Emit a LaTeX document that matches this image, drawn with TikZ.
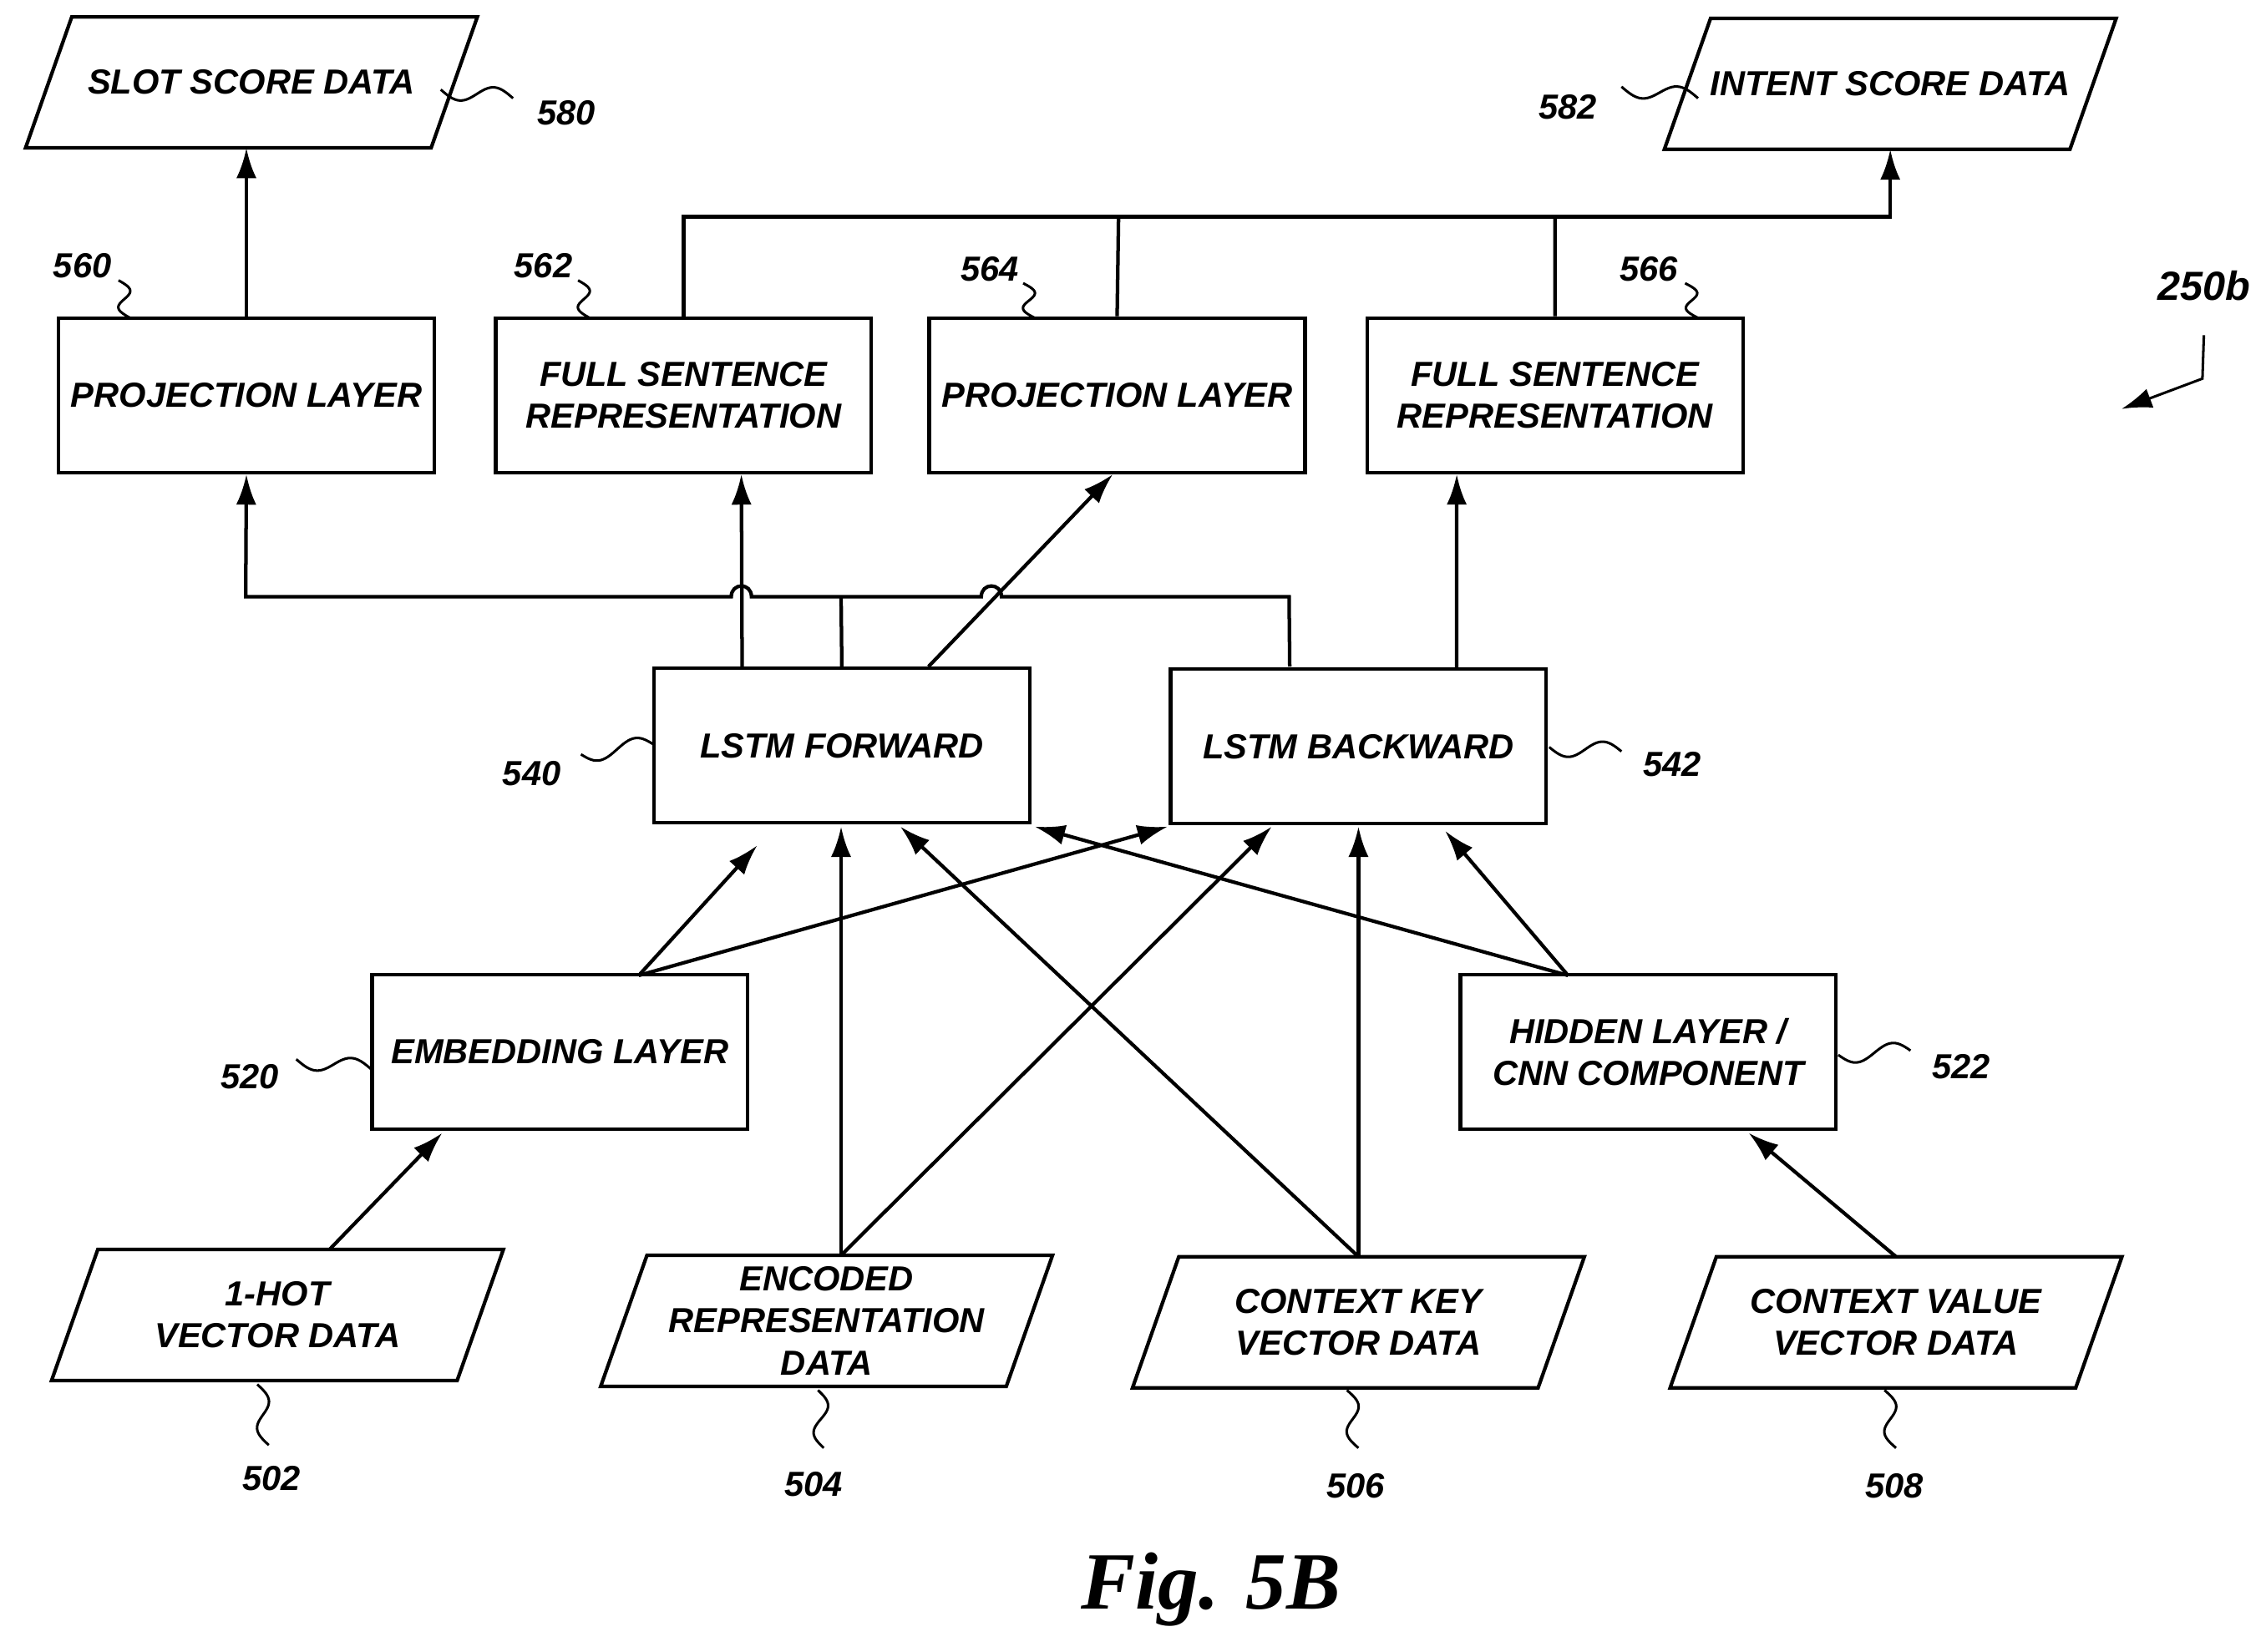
\documentclass[tikz,border=0pt]{standalone}
\usepackage{fontspec}
\setmainfont{Liberation Sans}
\newfontfamily\figfont{Liberation Serif}
\usetikzlibrary{shapes.geometric,arrows.meta,calc}
\begin{document}
\begin{tikzpicture}[x=0.02cm,y=-0.02cm,
  every node/.style={font=\fontsize{13.7}{16.5}\selectfont\bfseries\itshape},
  box/.style={draw,line width=1.4pt,minimum width=5.2cm,minimum height=2.14cm,inner sep=0pt,align=center},
  para/.style={minimum width=6.24cm,minimum height=1.8cm,inner sep=0pt,align=center},
  lbl/.style={inner sep=0pt},
  con/.style={line width=1.4pt},
  arr/.style={con,-{Latex[length=0.42cm,width=0.28cm]}},
  sq/.style={line width=1pt}]
\newcommand{\parag}[1]{\draw[con] ([xshift=0.64cm]#1.north west) -- (#1.north east) -- ([xshift=-0.64cm]#1.south east) -- (#1.south west) -- cycle;}
\useasboundingbox (0,0) rectangle (1568,1143);
% data parallelograms
\node[para] (slot) at (174,57) {SLOT SCORE DATA}; \parag{slot}
\node[para] (intent) at (1308,58) {INTENT SCORE DATA}; \parag{intent}
\node[para] (hot) at (192,910) {1-HOT\\VECTOR DATA}; \parag{hot}
\node[para] (enc) at (572,914) {ENCODED\\REPRESENTATION\\DATA}; \parag{enc}
\node[para] (key) at (940,915) {CONTEXT KEY\\VECTOR DATA}; \parag{key}
\node[para] (val) at (1312,915) {CONTEXT VALUE\\VECTOR DATA}; \parag{val}
% boxes
\node[box] (p560) at (170.5,273.5) {PROJECTION LAYER};
\node[box] (f562) at (473,273.5) {FULL SENTENCE\\REPRESENTATION};
\node[box] (p564) at (773,273.5) {PROJECTION LAYER};
\node[box] (f566) at (1076,273.5) {FULL SENTENCE\\REPRESENTATION};
\node[box] (lf) at (582.5,516) {LSTM FORWARD};
\node[box] (lb) at (940,516.5) {LSTM BACKWARD};
\node[box] (emb) at (387.5,728) {EMBEDDING LAYER};
\node[box] (hid) at (1140.5,728) {HIDDEN LAYER /\\CNN COMPONENT};
% top connectors
\draw[arr] (p560.north) -- (slot.south -| p560.north);
\draw[con] (f562.north) |- (774,150) coordinate (bus);
\draw[con] (p564.north) -- (bus) -| (f566.north);
\draw[arr] (bus) -| (intent.south);
% middle bus with hops
\draw[arr] ([xshift=6.2cm]lf.north) -- (892,413) -- (693,413) .. controls (693,403) and (679,403) .. (679,413)
  -- (520,413) .. controls (520,403) and (506,403) .. (506,413) -- (170,413) -- (p560.south);
\draw[con] (lf.north) -- (582,413);
\draw[arr] ([xshift=-1.38cm]lf.north) -- ([xshift=0.8cm]f562.south);
\draw[arr] ([xshift=1.2cm]lf.north) -- ([xshift=-0.06cm]p564.south);
\draw[arr] ([xshift=1.36cm]lb.north) -- ([xshift=-1.36cm]f566.south);
% lower connectors
\coordinate (et) at (442,675);
\draw[arr] (et) -- (524,585);
\draw[arr] (et) -- (808,572);
\draw[arr] (enc.north -| 582,0) -- (582,572);
\draw[arr] (enc.north -| 582,0) -- (880,572);
\draw[arr] (key.north) -- (940,572);
\draw[arr] (key.north) -- (623,572);
\coordinate (ht) at (1085,675);
\draw[arr] (ht) -- (1000,575);
\draw[arr] (ht) -- (716,572);
\draw[arr] (hot.north -| 228,0) -- (306,784);
\draw[arr] (val.north) -- (1210,784);
% reference labels
\newcommand{\sqg}[4]{\draw[sq] plot[domain=0:1,samples=30,smooth] ({#1+\x*(#3-#1)},{#2+\x*(#4-#2)+6*sin(360*\x)});}
\newcommand{\sqv}[4]{\draw[sq] plot[domain=0:1,samples=30,smooth] ({#1+\x*(#3-#1)+6*sin(360*\x)},{#2+\x*(#4-#2)});}
\node[lbl] (l580) at (392,78) {580}; \sqg{305}{62}{355}{68}
\node[lbl] (l582) at (1085,74) {582}; \sqg{1122}{60}{1175}{68}
\node[lbl] (l560) at (57,184) {560}; \sqv{82}{194}{90}{220}
\node[lbl] (l562) at (376,184) {562}; \sqv{400}{194}{408}{220}
\node[lbl] (l564) at (685,186) {564}; \sqv{708}{196}{716}{220}
\node[lbl] (l566) at (1141,186) {566}; \sqv{1166}{196}{1175}{220}
\node[lbl] (l540) at (368,535) {540}; \sqg{402}{522}{452}{515}
\node[lbl] (l542) at (1157,529) {542}; \sqg{1072}{517}{1122}{520}
\node[lbl] (l520) at (173,745) {520}; \sqg{205}{733}{257}{740}
\node[lbl] (l522) at (1357,738) {522}; \sqg{1272}{730}{1322}{727}
\node[lbl] (l502) at (188,1023) {502}; \sqv{178}{958}{186}{1000}
\node[lbl] (l504) at (563,1027) {504}; \sqv{566}{962}{570}{1002}
\node[lbl] (l506) at (938,1028) {506}; \sqv{932}{962}{940}{1002}
\node[lbl] (l508) at (1311,1028) {508}; \sqv{1304}{962}{1312}{1002}
\node[lbl,font=\fontsize{16}{19}\selectfont\bfseries\itshape] (l250) at (1525,198) {250b};
\coordinate (a1) at (1525,232);
\draw[arr,line width=1pt] (a1) -- (1524,262) -- (1468,283);
\node[lbl,font=\figfont\fontsize{32}{38}\selectfont\bfseries\itshape] (fig) at (838,1100) {Fig. 5B};
\end{tikzpicture}
\end{document}
